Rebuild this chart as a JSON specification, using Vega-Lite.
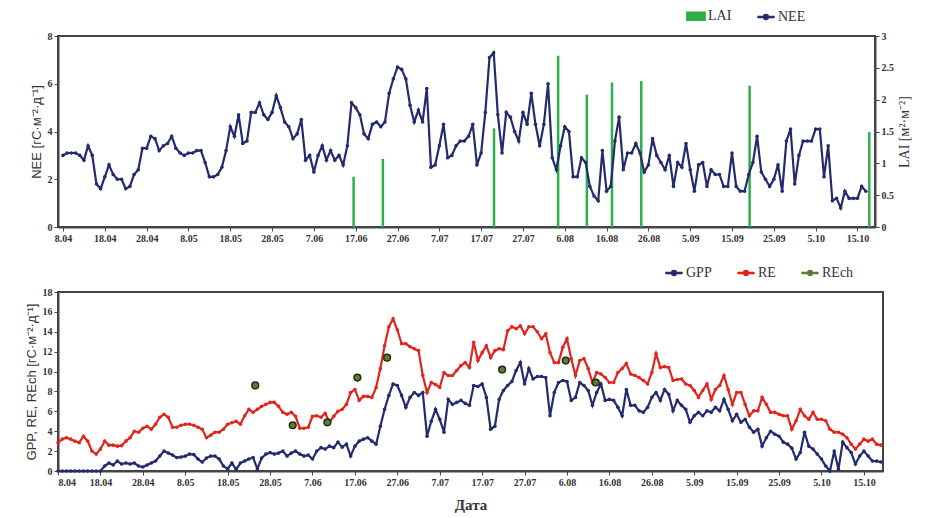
{
  "$schema": "https://vega.github.io/schema/vega-lite/v6.json",
  "padding": {"left": 24, "top": 5, "right": 5, "bottom": 5},
  "background": "white",
  "config": {
    "font": "Liberation Serif",
    "view": {"stroke": "#444", "strokeWidth": 2},
    "axis": {
      "grid": false,
      "labelFont": "Liberation Serif",
      "labelFontSize": 10,
      "labelFontWeight": "bold",
      "labelColor": "#333",
      "labelOverlap": false,
      "domainColor": "#444",
      "domainWidth": 2,
      "tickColor": "#444",
      "tickSize": 4,
      "titleFont": "Liberation Sans",
      "titleFontSize": 13,
      "titleFontWeight": "normal",
      "titleColor": "#333"
    },
    "legend": {
      "labelFont": "Liberation Serif",
      "labelFontSize": 14,
      "labelColor": "#333",
      "symbolSize": 300,
      "symbolStrokeWidth": 2.5,
      "columnPadding": 20,
      "labelOffset": 2
    }
  },
  "datasets": {
    "daily": [
      {"d":"2011-04-08","NEE":3.0,"GPP":0,"RE":2.85},
      {"d":"2011-04-09","NEE":3.1,"GPP":0,"RE":3.2},
      {"d":"2011-04-10","NEE":3.1,"GPP":0,"RE":3.35},
      {"d":"2011-04-11","NEE":3.1,"GPP":0,"RE":3.2},
      {"d":"2011-04-12","NEE":3.0,"GPP":0,"RE":3.0},
      {"d":"2011-04-13","NEE":2.8,"GPP":0,"RE":2.85},
      {"d":"2011-04-14","NEE":3.4,"GPP":0,"RE":3.5},
      {"d":"2011-04-15","NEE":3.0,"GPP":0,"RE":3.0},
      {"d":"2011-04-16","NEE":1.8,"GPP":0,"RE":2.0},
      {"d":"2011-04-17","NEE":1.6,"GPP":0,"RE":1.7},
      {"d":"2011-04-18","NEE":2.1,"GPP":0,"RE":2.2},
      {"d":"2011-04-19","NEE":2.6,"GPP":0.5,"RE":3.0},
      {"d":"2011-04-20","NEE":2.2,"GPP":0.8,"RE":2.6},
      {"d":"2011-04-21","NEE":2.0,"GPP":0.6,"RE":2.6},
      {"d":"2011-04-22","NEE":2.0,"GPP":1.0,"RE":2.5},
      {"d":"2011-04-23","NEE":1.6,"GPP":0.7,"RE":2.55},
      {"d":"2011-04-24","NEE":1.7,"GPP":0.8,"RE":3.0},
      {"d":"2011-04-25","NEE":2.2,"GPP":0.7,"RE":3.35},
      {"d":"2011-04-26","NEE":2.4,"GPP":0.8,"RE":4.0},
      {"d":"2011-04-27","NEE":3.3,"GPP":0.5,"RE":3.9},
      {"d":"2011-04-28","NEE":3.3,"GPP":0.4,"RE":4.3},
      {"d":"2011-04-29","NEE":3.8,"GPP":0.6,"RE":4.5},
      {"d":"2011-04-30","NEE":3.7,"GPP":0.8,"RE":4.2},
      {"d":"2011-05-01","NEE":3.2,"GPP":1.0,"RE":4.7},
      {"d":"2011-05-02","NEE":3.4,"GPP":1.5,"RE":5.4},
      {"d":"2011-05-03","NEE":3.5,"GPP":2.0,"RE":5.7},
      {"d":"2011-05-04","NEE":3.8,"GPP":1.8,"RE":5.4},
      {"d":"2011-05-05","NEE":3.3,"GPP":1.6,"RE":4.4},
      {"d":"2011-05-06","NEE":3.1,"GPP":1.35,"RE":4.4},
      {"d":"2011-05-07","NEE":3.0,"GPP":1.4,"RE":4.6},
      {"d":"2011-05-08","NEE":3.1,"GPP":1.5,"RE":4.7},
      {"d":"2011-05-09","NEE":3.1,"GPP":1.7,"RE":4.7},
      {"d":"2011-05-10","NEE":3.2,"GPP":1.65,"RE":4.6},
      {"d":"2011-05-11","NEE":3.2,"GPP":1.2,"RE":4.4},
      {"d":"2011-05-12","NEE":2.7,"GPP":0.9,"RE":4.2},
      {"d":"2011-05-13","NEE":2.1,"GPP":1.3,"RE":3.35},
      {"d":"2011-05-14","NEE":2.1,"GPP":1.5,"RE":3.6},
      {"d":"2011-05-15","NEE":2.2,"GPP":1.5,"RE":3.9},
      {"d":"2011-05-16","NEE":2.5,"GPP":1.2,"RE":3.9},
      {"d":"2011-05-17","NEE":3.2,"GPP":0.5,"RE":4.2},
      {"d":"2011-05-18","NEE":4.2,"GPP":0.2,"RE":4.7},
      {"d":"2011-05-19","NEE":3.8,"GPP":0.8,"RE":4.85},
      {"d":"2011-05-20","NEE":4.7,"GPP":0.15,"RE":5.0},
      {"d":"2011-05-21","NEE":3.5,"GPP":0.8,"RE":4.7},
      {"d":"2011-05-22","NEE":3.6,"GPP":1.0,"RE":5.55},
      {"d":"2011-05-23","NEE":4.8,"GPP":1.2,"RE":6.2},
      {"d":"2011-05-24","NEE":4.8,"GPP":1.35,"RE":5.9},
      {"d":"2011-05-25","NEE":5.2,"GPP":0.2,"RE":6.2},
      {"d":"2011-05-26","NEE":4.7,"GPP":1.3,"RE":6.5},
      {"d":"2011-05-27","NEE":4.5,"GPP":1.7,"RE":6.7},
      {"d":"2011-05-28","NEE":4.8,"GPP":1.85,"RE":6.9},
      {"d":"2011-05-29","NEE":5.5,"GPP":1.7,"RE":6.9},
      {"d":"2011-05-30","NEE":5.0,"GPP":1.8,"RE":6.5},
      {"d":"2011-05-31","NEE":4.4,"GPP":2.0,"RE":5.9},
      {"d":"2011-06-01","NEE":4.2,"GPP":1.5,"RE":5.7},
      {"d":"2011-06-02","NEE":3.7,"GPP":1.8,"RE":5.9},
      {"d":"2011-06-03","NEE":3.9,"GPP":2.0,"RE":5.5},
      {"d":"2011-06-04","NEE":4.5,"GPP":1.7,"RE":4.3},
      {"d":"2011-06-05","NEE":2.8,"GPP":1.5,"RE":4.3},
      {"d":"2011-06-06","NEE":3.0,"GPP":1.6,"RE":4.4},
      {"d":"2011-06-07","NEE":2.3,"GPP":1.2,"RE":5.5},
      {"d":"2011-06-08","NEE":3.0,"GPP":2.0,"RE":5.55},
      {"d":"2011-06-09","NEE":3.4,"GPP":2.35,"RE":5.4},
      {"d":"2011-06-10","NEE":2.8,"GPP":2.2,"RE":5.8},
      {"d":"2011-06-11","NEE":3.2,"GPP":2.5,"RE":4.9},
      {"d":"2011-06-12","NEE":2.8,"GPP":2.35,"RE":5.5},
      {"d":"2011-06-13","NEE":3.0,"GPP":2.9,"RE":6.0},
      {"d":"2011-06-14","NEE":2.6,"GPP":2.4,"RE":6.2},
      {"d":"2011-06-15","NEE":3.4,"GPP":2.7,"RE":6.7},
      {"d":"2011-06-16","NEE":5.2,"GPP":1.5,"RE":7.9},
      {"d":"2011-06-17","NEE":5.0,"GPP":2.5,"RE":8.2},
      {"d":"2011-06-18","NEE":4.7,"GPP":3.0,"RE":7.1},
      {"d":"2011-06-19","NEE":3.9,"GPP":3.2,"RE":7.5},
      {"d":"2011-06-20","NEE":3.7,"GPP":3.35,"RE":7.5},
      {"d":"2011-06-21","NEE":4.3,"GPP":3.0,"RE":7.4},
      {"d":"2011-06-22","NEE":4.4,"GPP":2.7,"RE":8.4},
      {"d":"2011-06-23","NEE":4.2,"GPP":4.5,"RE":10.3},
      {"d":"2011-06-24","NEE":4.4,"GPP":6.2,"RE":12.6},
      {"d":"2011-06-25","NEE":5.6,"GPP":7.6,"RE":14.5},
      {"d":"2011-06-26","NEE":6.2,"GPP":8.75,"RE":15.3},
      {"d":"2011-06-27","NEE":6.7,"GPP":8.6,"RE":14.2},
      {"d":"2011-06-28","NEE":6.6,"GPP":7.6,"RE":12.8},
      {"d":"2011-06-29","NEE":6.2,"GPP":6.4,"RE":12.8},
      {"d":"2011-06-30","NEE":5.1,"GPP":7.4,"RE":12.5},
      {"d":"2011-07-01","NEE":4.4,"GPP":7.9,"RE":12.3},
      {"d":"2011-07-02","NEE":4.9,"GPP":7.6,"RE":12.1},
      {"d":"2011-07-03","NEE":4.4,"GPP":7.9,"RE":9.6},
      {"d":"2011-07-04","NEE":5.8,"GPP":3.5,"RE":7.9},
      {"d":"2011-07-05","NEE":2.5,"GPP":5.0,"RE":8.9},
      {"d":"2011-07-06","NEE":2.6,"GPP":6.2,"RE":8.7},
      {"d":"2011-07-07","NEE":3.4,"GPP":5.2,"RE":8.4},
      {"d":"2011-07-08","NEE":4.3,"GPP":3.9,"RE":9.9},
      {"d":"2011-07-09","NEE":2.9,"GPP":7.2,"RE":9.6},
      {"d":"2011-07-10","NEE":3.0,"GPP":6.7,"RE":9.6},
      {"d":"2011-07-11","NEE":3.4,"GPP":6.9,"RE":10.1},
      {"d":"2011-07-12","NEE":3.6,"GPP":7.1,"RE":10.6},
      {"d":"2011-07-13","NEE":3.6,"GPP":6.8,"RE":10.9},
      {"d":"2011-07-14","NEE":3.8,"GPP":6.6,"RE":10.4},
      {"d":"2011-07-15","NEE":4.3,"GPP":8.6,"RE":12.95},
      {"d":"2011-07-16","NEE":2.6,"GPP":8.5,"RE":11.1},
      {"d":"2011-07-17","NEE":3.1,"GPP":8.75,"RE":11.9},
      {"d":"2011-07-18","NEE":4.8,"GPP":7.4,"RE":12.6},
      {"d":"2011-07-19","NEE":7.1,"GPP":4.2,"RE":11.4},
      {"d":"2011-07-20","NEE":7.3,"GPP":4.5,"RE":12.1},
      {"d":"2011-07-21","NEE":4.7,"GPP":7.2,"RE":12.3},
      {"d":"2011-07-22","NEE":3.1,"GPP":8.1,"RE":12.2},
      {"d":"2011-07-23","NEE":4.8,"GPP":8.6,"RE":14.1},
      {"d":"2011-07-24","NEE":4.6,"GPP":9.0,"RE":14.5},
      {"d":"2011-07-25","NEE":4.0,"GPP":10.1,"RE":14.3},
      {"d":"2011-07-26","NEE":3.6,"GPP":10.9,"RE":14.6},
      {"d":"2011-07-27","NEE":4.8,"GPP":8.75,"RE":13.8},
      {"d":"2011-07-28","NEE":4.3,"GPP":10.3,"RE":14.5},
      {"d":"2011-07-29","NEE":5.6,"GPP":9.25,"RE":14.5},
      {"d":"2011-07-30","NEE":4.3,"GPP":9.5,"RE":14.0},
      {"d":"2011-07-31","NEE":3.4,"GPP":9.5,"RE":13.3},
      {"d":"2011-08-01","NEE":4.3,"GPP":9.4,"RE":13.8},
      {"d":"2011-08-02","NEE":6.0,"GPP":5.55,"RE":11.9},
      {"d":"2011-08-03","NEE":2.9,"GPP":7.9,"RE":10.9},
      {"d":"2011-08-04","NEE":2.4,"GPP":8.9,"RE":10.9},
      {"d":"2011-08-05","NEE":3.4,"GPP":9.1,"RE":12.45},
      {"d":"2011-08-06","NEE":4.2,"GPP":9.0,"RE":13.3},
      {"d":"2011-08-07","NEE":4.0,"GPP":7.1,"RE":11.3},
      {"d":"2011-08-08","NEE":2.1,"GPP":7.4,"RE":9.6},
      {"d":"2011-08-09","NEE":2.1,"GPP":8.9,"RE":11.1},
      {"d":"2011-08-10","NEE":2.9,"GPP":8.6,"RE":11.3},
      {"d":"2011-08-11","NEE":2.7,"GPP":8.1,"RE":10.3},
      {"d":"2011-08-12","NEE":1.7,"GPP":6.6,"RE":8.9},
      {"d":"2011-08-13","NEE":1.3,"GPP":7.9,"RE":9.9},
      {"d":"2011-08-14","NEE":1.1,"GPP":8.75,"RE":9.75},
      {"d":"2011-08-15","NEE":3.2,"GPP":7.1,"RE":9.4},
      {"d":"2011-08-16","NEE":1.5,"GPP":7.2,"RE":8.9},
      {"d":"2011-08-17","NEE":1.7,"GPP":7.1,"RE":8.9},
      {"d":"2011-08-18","NEE":3.6,"GPP":6.4,"RE":9.9},
      {"d":"2011-08-19","NEE":4.6,"GPP":5.55,"RE":10.3},
      {"d":"2011-08-20","NEE":2.4,"GPP":8.2,"RE":10.8},
      {"d":"2011-08-21","NEE":3.1,"GPP":6.6,"RE":9.75},
      {"d":"2011-08-22","NEE":3.1,"GPP":6.6,"RE":9.6},
      {"d":"2011-08-23","NEE":3.5,"GPP":6.05,"RE":9.4},
      {"d":"2011-08-24","NEE":3.1,"GPP":5.9,"RE":9.1},
      {"d":"2011-08-25","NEE":2.3,"GPP":6.4,"RE":8.75},
      {"d":"2011-08-26","NEE":2.6,"GPP":7.4,"RE":9.9},
      {"d":"2011-08-27","NEE":3.7,"GPP":7.9,"RE":11.8},
      {"d":"2011-08-28","NEE":3.0,"GPP":7.1,"RE":10.4},
      {"d":"2011-08-29","NEE":2.7,"GPP":8.2,"RE":10.5},
      {"d":"2011-08-30","NEE":2.4,"GPP":7.7,"RE":10.4},
      {"d":"2011-08-31","NEE":3.0,"GPP":6.05,"RE":9.1},
      {"d":"2011-09-01","NEE":1.7,"GPP":7.1,"RE":9.2},
      {"d":"2011-09-02","NEE":2.7,"GPP":6.6,"RE":9.25},
      {"d":"2011-09-03","NEE":2.5,"GPP":6.2,"RE":8.75},
      {"d":"2011-09-04","NEE":3.5,"GPP":4.9,"RE":8.6},
      {"d":"2011-09-05","NEE":2.4,"GPP":5.55,"RE":8.1},
      {"d":"2011-09-06","NEE":1.5,"GPP":5.9,"RE":7.4},
      {"d":"2011-09-07","NEE":2.6,"GPP":5.55,"RE":8.1},
      {"d":"2011-09-08","NEE":2.7,"GPP":6.05,"RE":8.75},
      {"d":"2011-09-09","NEE":1.7,"GPP":5.9,"RE":7.2},
      {"d":"2011-09-10","NEE":2.4,"GPP":6.4,"RE":8.2},
      {"d":"2011-09-11","NEE":2.2,"GPP":6.05,"RE":8.6},
      {"d":"2011-09-12","NEE":2.2,"GPP":7.2,"RE":9.6},
      {"d":"2011-09-13","NEE":1.7,"GPP":6.2,"RE":8.2},
      {"d":"2011-09-14","NEE":1.7,"GPP":5.05,"RE":6.7},
      {"d":"2011-09-15","NEE":3.1,"GPP":5.7,"RE":7.9},
      {"d":"2011-09-16","NEE":1.7,"GPP":4.9,"RE":7.9},
      {"d":"2011-09-17","NEE":1.5,"GPP":5.2,"RE":6.7},
      {"d":"2011-09-18","NEE":1.5,"GPP":4.4,"RE":5.55},
      {"d":"2011-09-19","NEE":2.2,"GPP":3.9,"RE":6.05},
      {"d":"2011-09-20","NEE":2.7,"GPP":4.2,"RE":6.05},
      {"d":"2011-09-21","NEE":3.8,"GPP":2.5,"RE":7.4},
      {"d":"2011-09-22","NEE":2.3,"GPP":3.35,"RE":6.7},
      {"d":"2011-09-23","NEE":2.0,"GPP":4.0,"RE":5.9},
      {"d":"2011-09-24","NEE":1.7,"GPP":3.7,"RE":5.9},
      {"d":"2011-09-25","NEE":2.0,"GPP":3.5,"RE":5.7},
      {"d":"2011-09-26","NEE":2.6,"GPP":2.9,"RE":5.55},
      {"d":"2011-09-27","NEE":1.5,"GPP":2.7,"RE":5.55},
      {"d":"2011-09-28","NEE":3.6,"GPP":2.3,"RE":4.2},
      {"d":"2011-09-29","NEE":4.1,"GPP":1.2,"RE":5.05},
      {"d":"2011-09-30","NEE":1.8,"GPP":1.85,"RE":6.2},
      {"d":"2011-10-01","NEE":3.0,"GPP":3.9,"RE":5.55},
      {"d":"2011-10-02","NEE":3.6,"GPP":2.5,"RE":5.2},
      {"d":"2011-10-03","NEE":3.6,"GPP":2.2,"RE":5.9},
      {"d":"2011-10-04","NEE":3.6,"GPP":1.7,"RE":5.2},
      {"d":"2011-10-05","NEE":4.1,"GPP":1.2,"RE":5.2},
      {"d":"2011-10-06","NEE":4.1,"GPP":0.5,"RE":5.05},
      {"d":"2011-10-07","NEE":2.1,"GPP":0.0,"RE":4.2},
      {"d":"2011-10-08","NEE":3.4,"GPP":2.0,"RE":3.9},
      {"d":"2011-10-09","NEE":1.1,"GPP":0.15,"RE":3.9},
      {"d":"2011-10-10","NEE":1.2,"GPP":2.9,"RE":3.7},
      {"d":"2011-10-11","NEE":0.8,"GPP":2.35,"RE":3.35},
      {"d":"2011-10-12","NEE":1.5,"GPP":1.85,"RE":2.7},
      {"d":"2011-10-13","NEE":1.2,"GPP":0.7,"RE":2.2},
      {"d":"2011-10-14","NEE":1.2,"GPP":1.5,"RE":2.7},
      {"d":"2011-10-15","NEE":1.2,"GPP":2.0,"RE":3.2},
      {"d":"2011-10-16","NEE":1.7,"GPP":1.5,"RE":3.0},
      {"d":"2011-10-17","NEE":1.5,"GPP":1.0,"RE":3.2},
      {"d":"2011-10-18","NEE":null,"GPP":1.0,"RE":2.7},
      {"d":"2011-10-19","NEE":null,"GPP":0.9,"RE":2.6}
    ],
    "lai": [
      {"d":"2011-06-16T12:00:00Z","LAI":0.79},
      {"d":"2011-06-23T12:00:00Z","LAI":1.07},
      {"d":"2011-07-20T02:00:00Z","LAI":1.55},
      {"d":"2011-08-04T10:00:00Z","LAI":2.69},
      {"d":"2011-08-11T07:00:00Z","LAI":2.08},
      {"d":"2011-08-17T07:00:00Z","LAI":2.27},
      {"d":"2011-08-24T07:00:00Z","LAI":2.29},
      {"d":"2011-09-19T05:00:00Z","LAI":2.22},
      {"d":"2011-10-17T20:00:00Z","LAI":1.49}
    ],
    "rech": [
      {"d":"2011-05-24T12:00:00Z","REch":8.6},
      {"d":"2011-06-02T08:00:00Z","REch":4.6},
      {"d":"2011-06-10T12:00:00Z","REch":4.9},
      {"d":"2011-06-17T14:00:00Z","REch":9.4},
      {"d":"2011-06-24T14:00:00Z","REch":11.4},
      {"d":"2011-07-21T17:00:00Z","REch":10.2},
      {"d":"2011-08-05T17:00:00Z","REch":11.1},
      {"d":"2011-08-12T19:00:00Z","REch":8.9}
    ]
  },
  "vconcat": [
    {
      "width": 817,
      "height": 191,
      "layer": [
        {
          "data": {"name": "lai"},
          "mark": {"type": "bar", "size": 2.5},
          "encoding": {
            "x": {"field": "d", "type": "temporal",
              "scale": {"type": "utc", "domain": [{"year":2011,"month":4,"date":8,"utc":true},{"year":2011,"month":10,"date":18,"utc":true}]},
              "axis": {"title": null, "format": "%-d.%m",
                "values": [
                  {"year":2011,"month":4,"date":8,"utc":true},{"year":2011,"month":4,"date":18,"utc":true},{"year":2011,"month":4,"date":28,"utc":true},
                  {"year":2011,"month":5,"date":8,"utc":true},{"year":2011,"month":5,"date":18,"utc":true},{"year":2011,"month":5,"date":28,"utc":true},
                  {"year":2011,"month":6,"date":7,"utc":true},{"year":2011,"month":6,"date":17,"utc":true},{"year":2011,"month":6,"date":27,"utc":true},
                  {"year":2011,"month":7,"date":7,"utc":true},{"year":2011,"month":7,"date":17,"utc":true},{"year":2011,"month":7,"date":27,"utc":true},
                  {"year":2011,"month":8,"date":6,"utc":true},{"year":2011,"month":8,"date":16,"utc":true},{"year":2011,"month":8,"date":26,"utc":true},
                  {"year":2011,"month":9,"date":5,"utc":true},{"year":2011,"month":9,"date":15,"utc":true},{"year":2011,"month":9,"date":25,"utc":true},
                  {"year":2011,"month":10,"date":5,"utc":true},{"year":2011,"month":10,"date":15,"utc":true}
                ]}},
            "y": {"field": "LAI", "type": "quantitative",
              "scale": {"domain": [0, 3]},
              "axis": {"orient": "right", "title": "LAI [м²·м⁻²]", "titleAngle": 270, "titleBaseline": "top", "titlePadding": 4, "values": [0,0.5,1,1.5,2,2.5,3], "format": "~g", "titleFont": "Liberation Serif", "titleFontSize": 14}},
            "color": {"datum": "LAI", "type": "nominal",
              "scale": {"domain": ["LAI", "NEE"], "range": ["#2db04b", "#232a6e"]},
              "legend": {"orient": "none", "legendX": 628, "legendY": -30, "direction": "horizontal", "title": null,
                "encode": {"symbols": {"update": {
                  "shape": {"signal": "datum.value === 'LAI' ? 'M-1,-0.4H1V0.4H-1Z' : 'M-1,0H1M-0.22,0A0.22,0.22,0,1,1,0.22,0A0.22,0.22,0,1,1,-0.22,0'"}
                }}}}}
          }
        },
        {
          "layer": [
            {
              "data": {"name": "daily"},
              "mark": {"type": "line", "strokeWidth": 2.2, "point": {"filled": true, "size": 13}},
              "encoding": {
                "x": {"field": "d", "type": "temporal"},
                "y": {"field": "NEE", "type": "quantitative",
                  "scale": {"domain": [0, 8]},
                  "axis": {"title": "NEE [гС·м⁻²·д⁻¹]", "values": [0,2,4,6,8]}},
                "color": {"datum": "NEE", "type": "nominal"}
              }
            },
            {
              "mark": {"type": "text", "font": "Liberation Sans", "fontSize": 32, "align": "left", "baseline": "middle", "color": "#111"},
              "encoding": {
                "x": {"datum": {"year":2011,"month":4,"date":14,"hours":17,"utc":true}, "type": "temporal"},
                "y": {"datum": 6.8, "type": "quantitative"},
                "text": {"value": "A"}
              }
            }
          ]
        }
      ],
      "resolve": {"scale": {"y": "independent"}}
    },
    {
      "width": 825,
      "height": 179,
      "layer": [
        {
          "data": {"name": "daily"},
          "mark": {"type": "line", "strokeWidth": 2.2, "point": {"filled": true, "size": 13}},
          "encoding": {
            "x": {"field": "d", "type": "temporal",
              "scale": {"type": "utc", "domain": [{"year":2011,"month":4,"date":8,"utc":true},{"year":2011,"month":10,"date":19,"hours":12,"utc":true}]},
              "axis": {"title": "Дата", "titleFont": "Liberation Serif", "titleFontSize": 15, "titleFontWeight": "bold", "titlePadding": 10, "format": "%-d.%m",
                "values": [
                  {"year":2011,"month":4,"date":8,"utc":true},{"year":2011,"month":4,"date":18,"utc":true},{"year":2011,"month":4,"date":28,"utc":true},
                  {"year":2011,"month":5,"date":8,"utc":true},{"year":2011,"month":5,"date":18,"utc":true},{"year":2011,"month":5,"date":28,"utc":true},
                  {"year":2011,"month":6,"date":7,"utc":true},{"year":2011,"month":6,"date":17,"utc":true},{"year":2011,"month":6,"date":27,"utc":true},
                  {"year":2011,"month":7,"date":7,"utc":true},{"year":2011,"month":7,"date":17,"utc":true},{"year":2011,"month":7,"date":27,"utc":true},
                  {"year":2011,"month":8,"date":6,"utc":true},{"year":2011,"month":8,"date":16,"utc":true},{"year":2011,"month":8,"date":26,"utc":true},
                  {"year":2011,"month":9,"date":5,"utc":true},{"year":2011,"month":9,"date":15,"utc":true},{"year":2011,"month":9,"date":25,"utc":true},
                  {"year":2011,"month":10,"date":5,"utc":true},{"year":2011,"month":10,"date":15,"utc":true}
                ]}},
            "y": {"field": "GPP", "type": "quantitative",
              "scale": {"domain": [0, 18]},
              "axis": {"title": "GPP, RE, REch [гС·м⁻²·д⁻¹]", "values": [0,2,4,6,8,10,12,14,16,18]}},
            "color": {"datum": "GPP", "type": "nominal",
              "scale": {"domain": ["GPP", "RE", "REch"], "range": ["#232a6e", "#e3241d", "#5e7d34"]},
              "legend": {"orient": "none", "legendX": 606, "legendY": -29, "direction": "horizontal", "title": null,
                "symbolType": "M-1,0H1M-0.22,0A0.22,0.22,0,1,1,0.22,0A0.22,0.22,0,1,1,-0.22,0"}}
          }
        },
        {
          "data": {"name": "daily"},
          "mark": {"type": "line", "strokeWidth": 2.2, "point": {"filled": true, "size": 13}},
          "encoding": {
            "x": {"field": "d", "type": "temporal"},
            "y": {"field": "RE", "type": "quantitative",
              "axis": {"title": "GPP, RE, REch [гС·м⁻²·д⁻¹]", "values": [0,2,4,6,8,10,12,14,16,18]}},
            "color": {"datum": "RE", "type": "nominal"}
          }
        },
        {
          "data": {"name": "rech"},
          "mark": {"type": "point", "filled": true, "size": 45, "stroke": "#1f2a14", "strokeWidth": 1.5, "opacity": 1},
          "encoding": {
            "x": {"field": "d", "type": "temporal"},
            "y": {"field": "REch", "type": "quantitative",
              "axis": {"title": "GPP, RE, REch [гС·м⁻²·д⁻¹]", "values": [0,2,4,6,8,10,12,14,16,18]}},
            "color": {"datum": "REch", "type": "nominal"}
          }
        },
        {
          "mark": {"type": "text", "font": "Liberation Sans", "fontSize": 31, "align": "left", "baseline": "middle", "color": "#111"},
          "encoding": {
            "x": {"datum": {"year":2011,"month":4,"date":15,"hours":12,"utc":true}, "type": "temporal"},
            "y": {"datum": 13.9, "type": "quantitative",
              "axis": {"title": "GPP, RE, REch [гС·м⁻²·д⁻¹]", "values": [0,2,4,6,8,10,12,14,16,18]}},
            "text": {"value": "B"}
          }
        }
      ]
    }
  ],
  "spacing": 18,
  "resolve": {"scale": {"color": "independent"}, "legend": {"color": "independent"}}
}
